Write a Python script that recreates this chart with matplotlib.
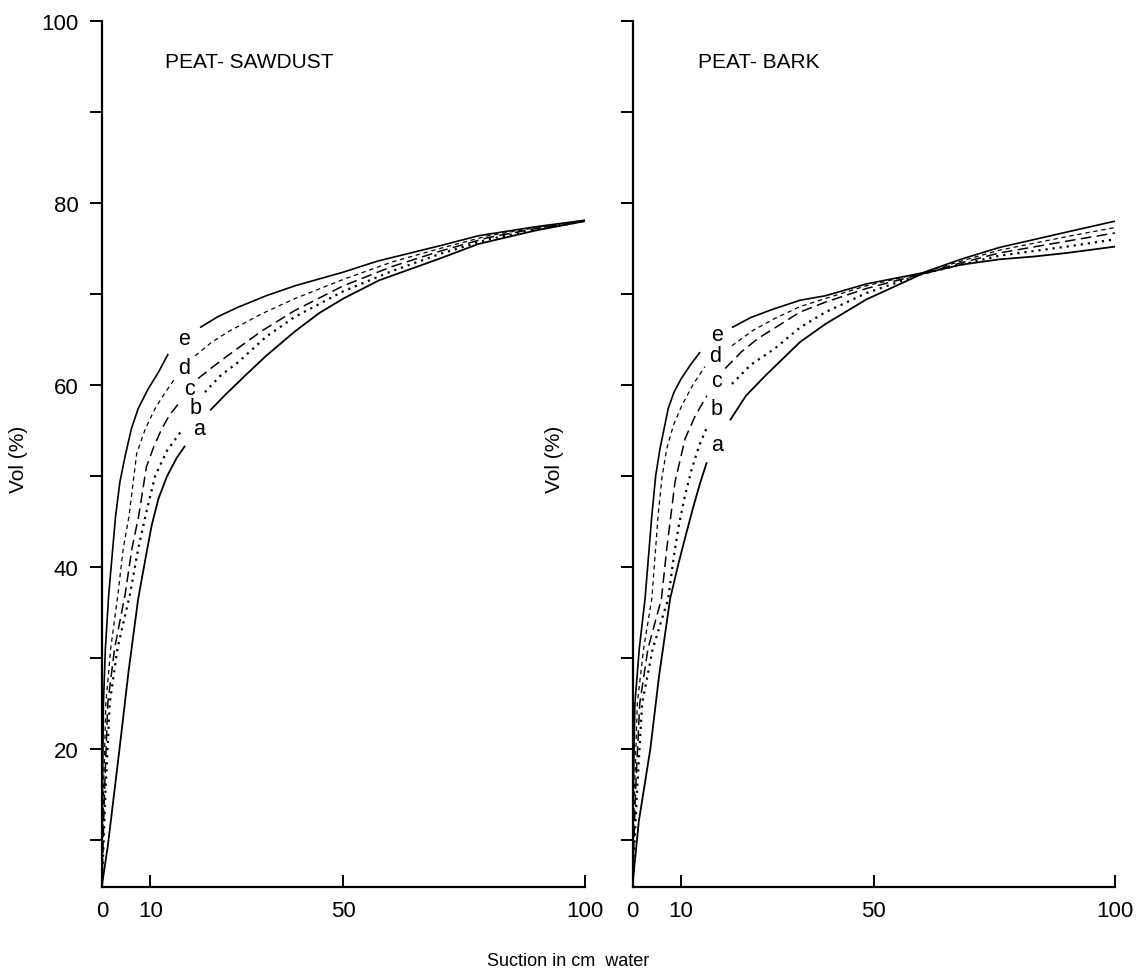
import numpy as np
import matplotlib
matplotlib.use("Agg")
import matplotlib.pyplot as plt

plt.rcParams['font.family'] = ['Liberation Sans', 'DejaVu Sans']

nan = np.nan
# ---------------- data: PEAT-SAWDUST ----------------
saw_e_x = [0, 0.1, 0.3, 0.7, 1.4, 2.8, 3.7, 4.8, 6.1, 7.5, 9.6, 11.7, 13.7, nan,
           20.3, 24, 28, 34, 40, 50, 57, 70, 78, 90, 100]
saw_e_y = [5, 15, 25, 31, 37, 45.5, 49.3, 52.2, 55.2, 57.4, 59.6, 61.4, 63.4, nan,
           66.3, 67.5, 68.5, 69.8, 70.9, 72.4, 73.6, 75.3, 76.4, 77.4, 78.1]
saw_d_x = [0, 0.3, 0.8, 1.8, 3.3, 4.4, 5.6, 7.2, 9, 11, 13, 15.1, nan,
           19.3, 22.5, 26, 33, 40, 50, 60, 70, 80, 90, 100]
saw_d_y = [5, 15, 25, 31, 37, 42, 45.6, 52.5, 55.2, 57.4, 59.1, 60.7, nan,
           63.2, 64.6, 65.8, 67.8, 69.5, 71.6, 73.5, 75, 76.4, 77.3, 78.1]
saw_c_x = [0, 0.5, 1.2, 2.6, 4.8, 6.2, 7.6, 9.2, 10.8, 12.4, 14, 16.1, nan,
           19.9, 23, 26, 33, 40, 50, 60, 70, 80, 90, 100]
saw_c_y = [5, 15, 25, 31, 37, 42, 45.6, 51.0, 53.3, 55.2, 56.7, 58.1, nan,
           60.7, 62.0, 63.2, 65.9, 68.2, 70.9, 73, 74.7, 76.2, 77.2, 78]
saw_b_x = [0, 0.7, 1.6, 3.2, 5.8, 7.5, 9.0, 11, 13.5, 16.8, nan,
           21.3, 24.5, 28.2, 34, 40, 50, 60, 70, 80, 90, 100]
saw_b_y = [5, 15, 25, 31, 37, 42, 45.6, 50, 52.8, 55.2, nan,
           59.2, 61, 62.5, 65.3, 67.5, 70.3, 72.5, 74.4, 76, 77.1, 78]
saw_a_x = [0, 1.2, 3.7, 5.5, 7.5, 9, 10.3, 11.7, 13.5, 15.5, 17.2, nan,
           22.4, 25.5, 29.6, 34, 40, 45, 50, 57.4, 70, 78, 90, 100]
saw_a_y = [5, 9.3, 20.3, 28.5, 36.5, 40.9, 44.6, 47.5, 50, 52, 53.3, nan,
           57.2, 58.9, 61, 63.2, 65.9, 67.9, 69.5, 71.5, 73.9, 75.5, 77, 78]

# ---------------- data: PEAT-BARK ----------------
bark_e_x = [0, 0.15, 0.5, 1.4, 2.6, 4, 4.8, 5.7, 7.4, 8.6, 10, 12, 14, nan,
            20.6, 24.5, 29, 34.7, 40, 48.5, 60, 68, 76, 90, 100]
bark_e_y = [5, 15, 25, 31, 36.5, 45.6, 50, 53, 57.4, 59.2, 60.6, 62.2, 63.6, nan,
            66.3, 67.4, 68.3, 69.3, 69.8, 71.1, 72.3, 73.8, 75.1, 76.8, 78]
bark_d_x = [0, 0.4, 1, 2.3, 4, 5.3, 6.1, 7.1, 8.5, 10.2, 12.5, 15, nan,
            20.6, 25, 29.5, 34.7, 40, 48.5, 60, 68, 76, 90, 100]
bark_d_y = [5, 15, 25, 31, 36.5, 45.6, 49.8, 53, 55.6, 57.7, 60, 62, nan,
            64.3, 66, 67.3, 68.6, 69.5, 70.9, 72.3, 73.6, 74.8, 76.3, 77.3]
bark_c_x = [0, 0.6, 1.5, 3.2, 6, 7.1, 8.8, 10.9, 13, 15.4, nan,
            19.2, 22.5, 26, 34.7, 40, 48.5, 60, 68, 76, 90, 100]
bark_c_y = [5, 15, 25, 31, 36.5, 42, 49.3, 54.1, 56.6, 58.8, nan,
            61.8, 63.6, 65.1, 68, 69.1, 70.6, 72.2, 73.4, 74.5, 75.8, 76.7]
bark_b_x = [0, 0.9, 2, 4.2, 7.4, 8.4, 9.5, 10.9, 12.3, 13.8, 15.4, nan,
            20.6, 24.5, 29.5, 34.7, 40, 48.5, 60, 68, 76, 90, 100]
bark_b_y = [5, 15, 25, 31, 36.5, 40.5, 44.3, 47.9, 50.8, 53.3, 55.3, nan,
            60.1, 62.2, 64, 66.3, 68, 70.1, 72.2, 73.2, 74.2, 75.2, 76]
bark_a_x = [0, 1.3, 3.7, 5.5, 7.8, 9.5, 11, 12.5, 14, 15.4, nan,
            20.2, 23.5, 27.5, 34.7, 40, 48.5, 60, 68, 76, 83, 90, 100]
bark_a_y = [5, 12, 20, 28, 36.5, 40.3, 43.4, 46.4, 49.2, 51.5, nan,
            56.1, 58.8, 61, 64.7, 66.7, 69.4, 72.2, 73.2, 73.8, 74.1, 74.5, 75.2]

curve_names = ['a', 'b', 'c', 'd', 'e']
saw_label_x = [20.1, 19.3, 18.2, 17.0, 17.0]
saw_label_y = [55.2, 57.5, 59.6, 61.9, 65.1]
bark_label_x = [17.5, 17.5, 17.5, 17.1, 17.5]
bark_label_y = [53.5, 57.4, 60.5, 63.2, 65.5]

x_ticks = [0, 10, 50, 100]
y_ticks = [10, 20, 30, 40, 50, 60, 70, 80, 90, 100]
y_ticklabels = ['', '20', '', '40', '', '60', '', '80', '', '100']

styles = {
    'a': dict(linestyle='-', linewidth=1.3),
    'b': dict(linestyle=(0, (1, 2.2)), linewidth=1.6),
    'c': dict(linestyle=(0, (7, 3.5)), linewidth=1.1),
    'd': dict(linestyle=(0, (3.5, 3)), linewidth=0.9),
    'e': dict(linestyle='-', linewidth=1.2),
}

fig = plt.figure(figsize=(11.37, 9.78), dpi=100)
ax1 = fig.add_axes([0.0897, 0.092, 0.4248, 0.8855])
ax2 = fig.add_axes([0.5563, 0.092, 0.4244, 0.8855])

panels = [
    (ax1, 'PEAT- SAWDUST',
     {'a': (saw_a_x, saw_a_y), 'b': (saw_b_x, saw_b_y), 'c': (saw_c_x, saw_c_y),
      'd': (saw_d_x, saw_d_y), 'e': (saw_e_x, saw_e_y)},
     saw_label_x, saw_label_y, True, 13.0),
    (ax2, 'PEAT- BARK',
     {'a': (bark_a_x, bark_a_y), 'b': (bark_b_x, bark_b_y), 'c': (bark_c_x, bark_c_y),
      'd': (bark_d_x, bark_d_y), 'e': (bark_e_x, bark_e_y)},
     bark_label_x, bark_label_y, False, 13.5),
]

for ax, title, data, lx, ly, show_ylabels, title_x in panels:
    for name in curve_names:
        xs, ys = data[name]
        ax.plot(xs, ys, color='black', solid_capstyle='butt', dash_capstyle='butt',
                solid_joinstyle='round', **styles[name])
    for name, tx, ty in zip(curve_names, lx, ly):
        ax.text(tx, ty, name, fontsize=15.5, ha='center', va='center', color='black')
    ax.set_xlim(0, 100)
    ax.set_ylim(4.8, 100)
    ax.spines['top'].set_visible(False)
    ax.spines['right'].set_visible(False)
    ax.spines['left'].set_linewidth(1.6)
    ax.spines['bottom'].set_linewidth(1.6)
    ax.set_xticks(x_ticks)
    ax.set_xticklabels([str(v) for v in x_ticks], fontsize=16)
    ax.set_yticks(y_ticks)
    if show_ylabels:
        ax.set_yticklabels(y_ticklabels, fontsize=16)
    else:
        ax.set_yticklabels([])
    ax.tick_params(axis='x', direction='in', length=9, width=1.4, pad=9)
    ax.tick_params(axis='y', direction='out', length=9, width=1.4, pad=8)
    ax.text(title_x, 95.5, title, fontsize=15, ha='left', va='center')

fig.text(0.016, 0.53, 'Vol (%)', rotation=90, fontsize=15, ha='center', va='center')
fig.text(0.488, 0.53, 'Vol (%)', rotation=90, fontsize=15, ha='center', va='center')
fig.text(0.4996, 0.0164, 'Suction in cm  water', fontsize=13, ha='center', va='center')

fig.savefig('out.png', dpi=100)
